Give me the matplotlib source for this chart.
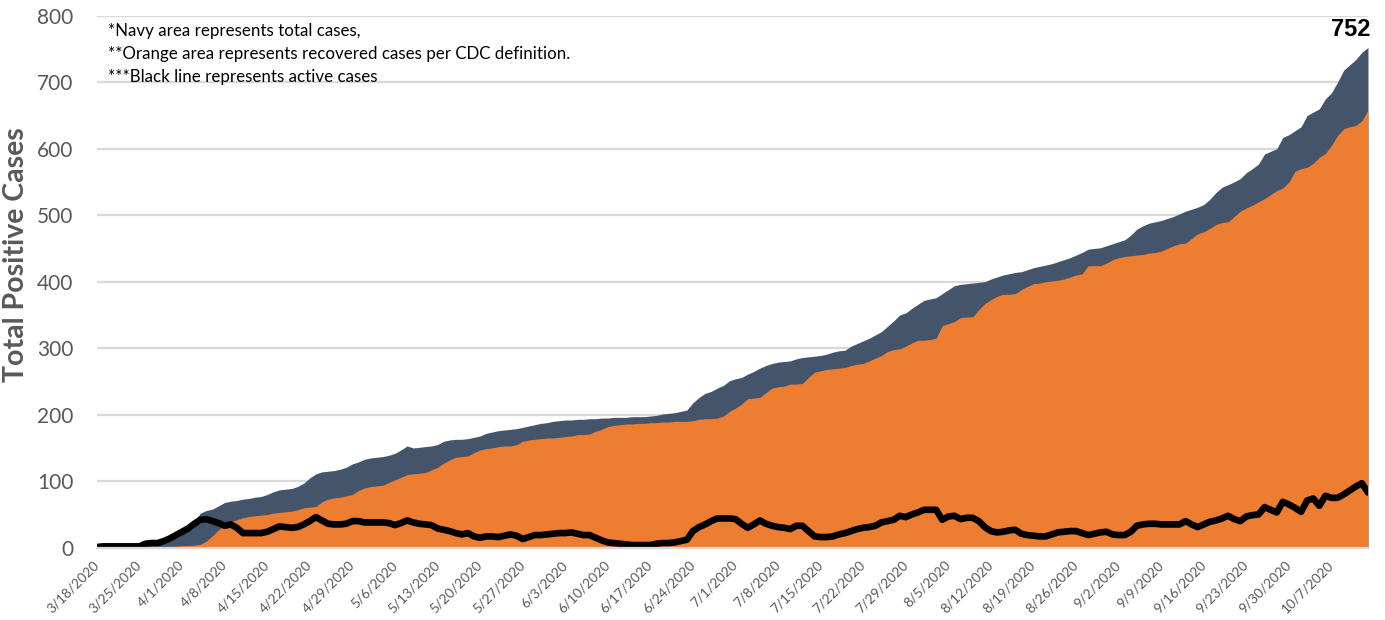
import matplotlib
matplotlib.use("Agg")
import matplotlib.pyplot as plt
import numpy as np

# ---- data (daily, 3/18/2020 .. 10/13/2020) ----
total_cases = [
    1, 1, 2, 2, 2, 2, 2, 2, 6, 7,
    7, 10, 15, 20, 25, 32, 40, 52, 56, 58,
    63, 68, 70, 71, 73, 74, 76, 77, 80, 84,
    87, 88, 89, 92, 97, 105, 111, 114, 115, 116,
    118, 121, 126, 129, 133, 135, 136, 137, 139, 142,
    147, 153, 150, 151, 152, 153, 155, 160, 162, 163,
    163, 164, 166, 168, 172, 174, 176, 177, 178, 179,
    181, 183, 185, 187, 188, 190, 191, 192, 192, 193,
    193, 194, 194, 195, 195, 196, 196, 196, 197, 197,
    197, 198, 199, 201, 202, 203, 205, 207, 218, 226,
    232, 235, 240, 244, 251, 254, 256, 261, 265, 270,
    274, 277, 279, 280, 281, 284, 286, 287, 288, 289,
    291, 294, 296, 297, 303, 307, 311, 315, 320, 325,
    333, 341, 350, 353, 360, 366, 372, 374, 376, 382,
    388, 394, 396, 397, 398, 399, 400, 404, 407, 410,
    412, 414, 415, 418, 421, 423, 425, 427, 430, 433,
    436, 440, 444, 449, 450, 451, 454, 457, 460, 463,
    470, 479, 484, 488, 490, 492, 495, 498, 502, 506,
    509, 512, 516, 524, 534, 542, 546, 550, 555, 564,
    570, 577, 592, 596, 600, 617, 621, 627, 633, 650,
    655, 660, 675, 684, 700, 718, 726, 734, 745, 752,
]

recovered_cases = [
    0, 0, 0, 0, 0, 0, 0, 0, 0, 0,
    1, 1, 2, 2, 3, 3, 4, 5, 10, 18,
    27, 34, 39, 42, 45, 47, 48, 49, 50, 52,
    53, 54, 55, 57, 60, 61, 62, 69, 73, 75,
    76, 78, 80, 86, 90, 92, 93, 94, 98, 102,
    106, 110, 111, 112, 113, 117, 121, 127, 132, 136,
    137, 138, 143, 147, 149, 150, 152, 153, 153, 155,
    160, 162, 163, 164, 165, 165, 166, 167, 168, 170,
    170, 171, 175, 178, 182, 184, 185, 186, 186, 187,
    187, 188, 188, 189, 189, 190, 190, 190, 191, 193,
    194, 194, 195, 198, 205, 210, 216, 224, 225, 226,
    233, 240, 242, 243, 246, 246, 247, 256, 264, 266,
    268, 269, 270, 271, 274, 276, 277, 281, 285, 289,
    295, 298, 299, 303, 308, 312, 312, 313, 315, 334,
    337, 340, 346, 347, 347, 358, 367, 373, 378, 381,
    381, 382, 388, 393, 397, 398, 400, 401, 402, 404,
    407, 410, 412, 424, 424, 424, 428, 433, 436, 438,
    439, 440, 441, 443, 444, 446, 450, 454, 457, 458,
    465, 472, 475, 480, 486, 489, 490, 498, 506, 511,
    515, 520, 525, 531, 537, 541, 550, 566, 570, 572,
    578, 587, 593, 605, 620, 630, 633, 635, 642, 658,
]

active_cases = [
    1, 2, 2, 2, 2, 2, 2, 2, 6, 7,
    7, 10, 14, 19, 24, 29, 36, 42, 43, 40,
    37, 33, 35, 30, 22, 22, 22, 22, 24, 28,
    32, 31, 30, 31, 35, 40, 46, 41, 36, 35,
    35, 36, 40, 40, 38, 38, 38, 38, 37, 34,
    37, 41, 38, 36, 35, 34, 29, 27, 25, 22,
    20, 22, 17, 15, 17, 17, 16, 18, 20, 18,
    13, 16, 19, 19, 20, 21, 22, 22, 23, 21,
    19, 19, 15, 11, 8, 7, 6, 5, 4, 4,
    4, 4, 6, 7, 7, 8, 10, 12, 25, 31,
    35, 40, 44, 44, 44, 43, 36, 30, 35, 41,
    36, 33, 31, 30, 28, 33, 33, 25, 17, 16,
    16, 17, 20, 22, 25, 28, 30, 31, 33, 38,
    40, 42, 48, 46, 50, 53, 57, 57, 57, 42,
    47, 48, 43, 45, 45, 40, 31, 25, 23, 24,
    26, 27, 21, 19, 18, 17, 17, 20, 23, 24,
    25, 25, 22, 19, 21, 23, 24, 20, 19, 19,
    24, 33, 35, 36, 36, 35, 35, 35, 35, 40,
    35, 31, 35, 39, 41, 44, 48, 43, 40, 47,
    49, 50, 61, 57, 53, 69, 65, 60, 54, 71,
    74, 63, 78, 75, 75, 80, 86, 92, 97, 83,
]

tick_labels = [
    "3/18/2020", "3/25/2020", "4/1/2020", "4/8/2020", "4/15/2020",
    "4/22/2020", "4/29/2020", "5/6/2020", "5/13/2020", "5/20/2020",
    "5/27/2020", "6/3/2020", "6/10/2020", "6/17/2020", "6/24/2020",
    "7/1/2020", "7/8/2020", "7/15/2020", "7/22/2020", "7/29/2020",
    "8/5/2020", "8/12/2020", "8/19/2020", "8/26/2020", "9/2/2020",
    "9/9/2020", "9/16/2020", "9/23/2020", "9/30/2020", "10/7/2020",
]
tick_step = 7

notes = [
    "*Navy area represents total cases,",
    "**Orange area represents recovered cases per CDC definition.",
    "***Black line represents active cases",
]

# ---- styling ----
NAVY = "#44546A"
ORANGE = "#ED7D31"
GRID = "#D9D9D9"
TXT = "#595959"

plt.rcParams["font.family"] = ["Lato", "DejaVu Sans"]

days = np.arange(len(total_cases))

fig = plt.figure(figsize=(13.85, 6.2), dpi=100)
ax = fig.add_axes([0.0700, 0.1166, 0.9177, 0.8581])

ax.fill_between(days, 0, total_cases, color=NAVY, linewidth=0, zorder=2)
ax.fill_between(days, 0, recovered_cases, color=ORANGE, linewidth=0, zorder=3)
ax.plot(days, active_cases, color="black", linewidth=4.8,
        solid_joinstyle="round", solid_capstyle="round", zorder=4)

ax.set_xlim(0, len(total_cases) - 1)
ax.set_ylim(0, 800)
ax.set_yticks(np.arange(0, 801, 100))
ax.yaxis.grid(True, color=GRID, linewidth=1.6, zorder=1)
ax.set_axisbelow(True)

for s in ["top", "right", "left"]:
    ax.spines[s].set_visible(False)
ax.spines["bottom"].set_color(GRID)
ax.spines["bottom"].set_linewidth(1.6)
ax.spines["bottom"].set_zorder(5)

ax.tick_params(axis="y", length=0, pad=17, labelsize=15, labelcolor=TXT)
ax.set_xticks(days[::tick_step][:len(tick_labels)])
ax.set_xticklabels(tick_labels, rotation=45, ha="right", va="center",
                   rotation_mode="anchor", fontsize=9.8, color=TXT)
ax.tick_params(axis="x", length=0, pad=11)

ax.set_ylabel("Total Positive Cases", fontsize=20.5, fontweight="bold",
              color=TXT)
ax.yaxis.set_label_coords(-0.0535, 0.55)

for i, line in enumerate(notes):
    ax.text(0.0085, 0.972 - i * 0.0435, line, transform=ax.transAxes,
            fontsize=12.2, color="black", va="center", ha="left")

ax.annotate(f"{total_cases[-1]}", xy=(days[-1], total_cases[-1]),
            xytext=(1.5, 13), textcoords="offset points", ha="right",
            va="center", fontsize=17, fontweight="bold", color="black",
            family=["Liberation Sans", "DejaVu Sans"],
            annotation_clip=False)

fig.savefig("out.png", dpi=100)
